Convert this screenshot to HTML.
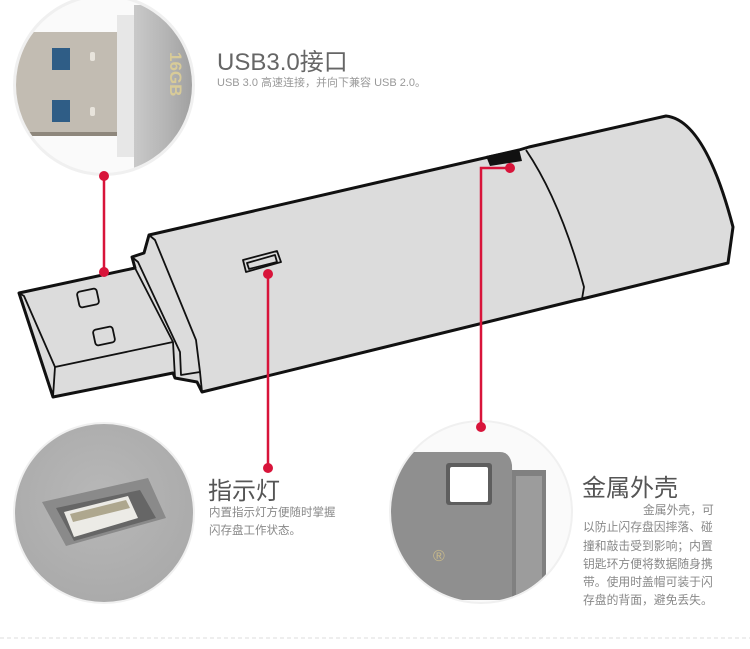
<!DOCTYPE html>
<html><head><meta charset="utf-8"><style>
html,body{margin:0;padding:0;background:#fff;width:750px;height:649px;overflow:hidden}
svg{display:block}
text{font-family:"Liberation Sans","Noto Sans CJK SC",sans-serif}
</style></head><body>
<svg width="750" height="649" viewBox="0 0 750 649" xmlns="http://www.w3.org/2000/svg">
<defs>
<clipPath id="c1"><circle cx="104" cy="85" r="88"/></clipPath>
<clipPath id="c2"><circle cx="104" cy="513" r="89"/></clipPath>
<clipPath id="c3"><circle cx="481" cy="512" r="90"/></clipPath>
<linearGradient id="cap" x1="0" x2="1"><stop offset="0" stop-color="#c9c9c9"/><stop offset="0.5" stop-color="#b4b4b4"/><stop offset="1" stop-color="#9a9a9a"/></linearGradient>
<radialGradient id="g2" cx="0.5" cy="0.4" r="0.6"><stop offset="0" stop-color="#b8b8b8"/><stop offset="1" stop-color="#a8a8a8"/></radialGradient>
</defs>
<circle cx="104" cy="85" r="91" fill="#f0f0f0"/>
<g clip-path="url(#c1)">
<rect x="0" y="-10" width="200" height="200" fill="#fafafa"/>
<rect x="10" y="32" width="110" height="104" fill="#c2bcb2"/>
<rect x="10" y="132" width="110" height="4" fill="#8e877c"/>
<rect x="52" y="48" width="18" height="22" fill="#2f5d86"/>
<rect x="52" y="100" width="18" height="22" fill="#2f5d86"/>
<rect x="90" y="52" width="5" height="9" rx="2" fill="#e8e4dc"/>
<rect x="90" y="107" width="5" height="9" rx="2" fill="#e8e4dc"/>
<rect x="117" y="15" width="17" height="142" fill="#e7e7e7"/>
<path d="M134 5 L200 5 L200 175 L134 168 Z" fill="url(#cap)"/>
<text x="0" y="0" transform="translate(170,52) rotate(90)" font-size="17" font-weight="bold" fill="#d8cb98">16GB</text>
</g>
<circle cx="104" cy="513" r="91" fill="#f0f0f0"/>
<g clip-path="url(#c2)">
<rect x="0" y="420" width="200" height="200" fill="url(#g2)"/>
<path d="M42 502 L148 478 L166 518 L66 546 Z" fill="#8a8a8a"/>
<path d="M56 508 L140 490 L156 518 L74 541 Z" fill="#666"/>
<path d="M64 512 L128 496 L138 518 L74 537 Z" fill="#ecebe6"/>
<path d="M70 514 L126 500 L130 508 L73 522 Z" fill="#aea78e"/>
</g>
<circle cx="481" cy="512" r="92" fill="#f0f0f0"/>
<g clip-path="url(#c3)">
<rect x="380" y="420" width="200" height="200" fill="#fafafa"/>
<path d="M380 452 L500 452 Q510 452 512 465 L514 600 L380 600 Z" fill="#8f8f8f"/>
<rect x="512" y="470" width="34" height="130" fill="#808080"/>
<rect x="516" y="476" width="26" height="120" fill="#9c9c9c"/>
<rect x="446" y="463" width="46" height="42" rx="3" fill="#5e5e5e"/>
<rect x="450" y="467" width="38" height="35" rx="2" fill="#fff"/>
<text x="433" y="561" font-size="16" fill="#c8b98a">®</text>
<text x="398" y="600" font-size="40" fill="#bfb08a">r</text>
</g>
<g stroke="#111" stroke-width="3" stroke-linejoin="round" fill="#dcdcdc">
<path d="M132 257 L144 253 L149 235 L519 150 L529 147 L666 116 Q705 120 733 227 L728 263 L582 299 L577 300 L202 392 L197 382 L175 378 L173 373 L53 397 L19 293 L135 268 Z"/>
</g>
<g stroke="#111" stroke-width="1.8" fill="none" stroke-linejoin="round">
<path d="M19 293 L24 296 L55 367 L173 342"/>
<path d="M55 367 L53 397"/>
<path d="M135 268 L173 342 L175 378"/>
<path d="M132 257 L138 262 L180 352 L181 375 L200 372 L202 392"/>
<path d="M149 235 L155 240 L196 340 L200 372"/>
<path d="M526 150 Q560 200 584 287 L582 299"/>
<rect x="78" y="290" width="20" height="16" rx="3" transform="rotate(-12 88 298)"/>
<rect x="94" y="328" width="20" height="16" rx="3" transform="rotate(-12 104 336)"/>
<path d="M243 260 L277 251 L281 262 L246 272 Z"/>
<path d="M247 263 L275 255 L277 262 L249 269 Z"/>
</g>
<path d="M486 156 L519 149 L522 161 L490 166 Z" fill="#111"/>
<g stroke="#d8143a" stroke-width="2.5" fill="none">
<path d="M104 175 L104 272"/>
<path d="M268 275 L268 468"/>
<path d="M510 168 L481 168 L481 427"/>
</g>
<g fill="#d8143a">
<circle cx="104" cy="176" r="5"/><circle cx="104" cy="272" r="5"/>
<circle cx="268" cy="274" r="5"/><circle cx="268" cy="468" r="5"/>
<circle cx="510" cy="168" r="5"/><circle cx="481" cy="427" r="5"/>
</g>
<text x="217" y="70" font-size="24" fill="#666">USB3.0接口</text>
<text x="217" y="86" font-size="11" fill="#999">USB 3.0 高速连接，并向下兼容 USB 2.0。</text>
<text x="208" y="499" font-size="24" fill="#555">指示灯</text>
<text x="209" y="516" font-size="11.5" fill="#888">内置指示灯方便随时掌握</text>
<text x="209" y="534" font-size="11.5" fill="#888">闪存盘工作状态。</text>
<text x="582" y="496" font-size="24" fill="#555">金属外壳</text>
<g font-size="11.8" fill="#888">
<text x="643" y="514">金属外壳，可</text>
<text x="583" y="531">以防止闪存盘因摔落、碰</text>
<text x="583" y="550">撞和敲击受到影响；内置</text>
<text x="583" y="568">钥匙环方便将数据随身携</text>
<text x="583" y="586">带。使用时盖帽可装于闪</text>
<text x="583" y="604">存盘的背面，避免丢失。</text>
</g>
<line x1="0" y1="638" x2="750" y2="638" stroke="#ddd" stroke-width="1" stroke-dasharray="4 3"/>
</svg>
</body></html>
